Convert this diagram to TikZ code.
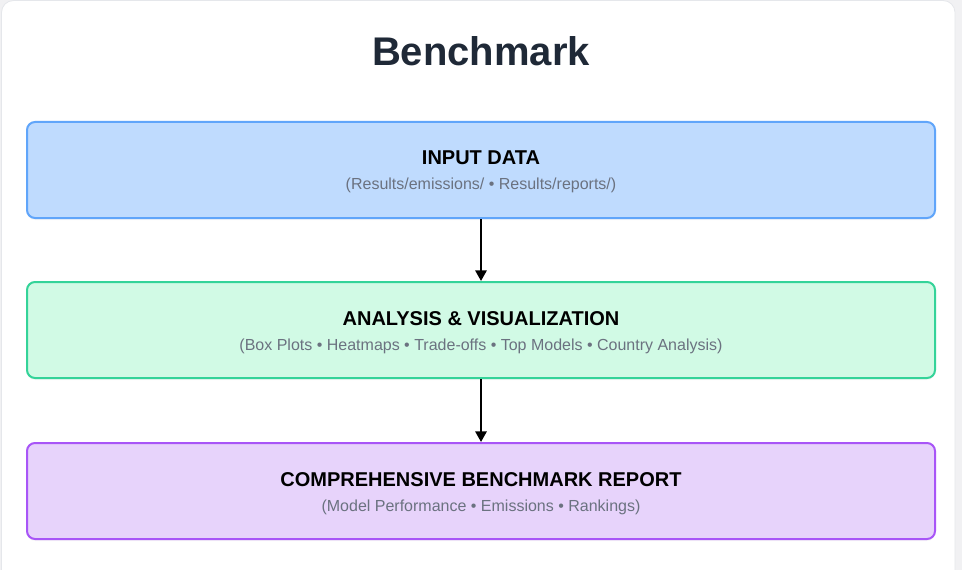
\documentclass[tikz,border=0pt]{standalone}
\usepackage{fontspec}
\setmainfont{Liberation Sans}
\usetikzlibrary{arrows.meta,shadows}
\definecolor{titlecol}{HTML}{1F2937}
\definecolor{subcol}{HTML}{6B7280}
\definecolor{bluefill}{HTML}{BFDBFE}
\definecolor{bluedraw}{HTML}{60A5FA}
\definecolor{greenfill}{HTML}{D1FAE5}
\definecolor{greendraw}{HTML}{34D399}
\definecolor{purplefill}{HTML}{E7D3FB}
\definecolor{purpledraw}{HTML}{A855F7}
\definecolor{pagebg}{HTML}{F1F1F3}
\definecolor{cardline}{HTML}{E5E7EB}
\tikzset{
  stagebox/.style={draw, line width=1.5pt, rounded corners=6pt, minimum width=681pt, minimum height=72pt, inner sep=0pt,
    drop shadow={opacity=0.06, shadow xshift=0pt, shadow yshift=-1.5pt}},
  headtext/.style={anchor=base, font=\fontsize{15}{17}\selectfont\bfseries, text=black, inner sep=0pt},
  subtext/.style={anchor=base, font=\fontsize{12}{14}\selectfont, text=subcol, inner sep=0pt},
  flowarrow/.style={line width=1.6pt, -{Triangle[width=8.5pt,length=8pt]}}
}
\begin{document}
\begin{tikzpicture}[x=0.75pt,y=-0.75pt]
\useasboundingbox (0,0) rectangle (962,570);
\fill[pagebg] (0,0) rectangle (962,570);
\filldraw[fill=white, draw=cardline, line width=0.6pt, rounded corners=9pt] (1.5,0.5) rectangle (955,600);
\node[anchor=base, font=\fontsize{30}{34}\selectfont\bfseries, text=titlecol, inner sep=0pt] (title) at (481,66) {Benchmark};

\node[stagebox, fill=bluefill, draw=bluedraw] (input) at (481,170) {};
\node[headtext] (inputh) at (481,165) {INPUT DATA};
\node[subtext] (inputs) at (481,190) {(Results/emissions/ • Results/reports/)};

\node[stagebox, fill=greenfill, draw=greendraw] (analysis) at (481,330) {};
\node[headtext] (analysish) at (481,325) {ANALYSIS \& VISUALIZATION};
\node[subtext] (analysiss) at (481,350) {(Box Plots • Heatmaps • Trade-offs • Top Models • Country Analysis)};

\node[stagebox, fill=purplefill, draw=purpledraw] (report) at (481,491) {};
\node[headtext] (reporth) at (481,486) {COMPREHENSIVE BENCHMARK REPORT};
\node[subtext] (reports) at (481,511) {(Model Performance • Emissions • Rankings)};

\draw[flowarrow] (input.south) -- (analysis.north);
\draw[flowarrow] (analysis.south) -- (report.north);
\end{tikzpicture}
\end{document}
